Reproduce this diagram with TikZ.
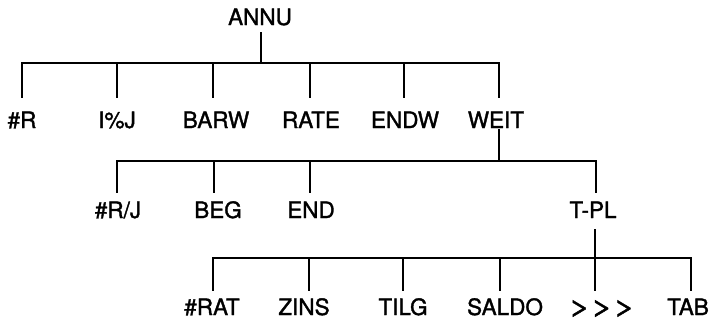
\documentclass[tikz,border=0pt]{standalone}
\usepackage{fontspec}
\setmainfont[FakeBold=1.5]{TeX Gyre Heros}
\newcommand{\gtsym}{\scalebox{1.7}[1.15]{>}}
\begin{document}
\begin{tikzpicture}[x=1pt,y=-1pt,
  lbl/.style={inner sep=0pt, anchor=base, text height=16pt, text depth=0pt,
    font=\fontsize{22.5}{22.5}\selectfont},
  ln/.style={line width=1.8pt, line cap=rect},
  dropA/.style={ln, shorten >=15pt},
  dropB/.style={ln, shorten >=10pt},
  dropC/.style={ln, shorten >=9pt}]
\useasboundingbox (0,0) rectangle (711,322);
% labels
\node[lbl] (annu) at (260,25) {ANNU};
\node[lbl] (r)    at (22,128)  {\#R};
\node[lbl] (ipj)  at (117,128) {I\%J};
\node[lbl] (barw) at (216,128) {BARW};
\node[lbl] (rate) at (311,128) {RATE};
\node[lbl] (endw) at (405,128) {ENDW};
\node[lbl] (weit) at (496,128) {WEIT};
\node[lbl] (rj)   at (118,218) {\#R/J};
\node[lbl] (beg)  at (218,218) {BEG};
\node[lbl] (end)  at (311,218) {END};
\node[lbl] (tpl)  at (593,218) {T-PL};
\node[lbl] (rat)  at (212,315) {\#RAT};
\node[lbl] (zins) at (304,315) {ZINS};
\node[lbl] (tilg) at (403,315) {TILG};
\node[lbl] (saldo) at (505,315) {SALDO};
\node[lbl] (more) at (602,315) {\gtsym\gtsym\gtsym};
\node[lbl] (tab)  at (688,315) {TAB};
% junctions level 1
\coordinate (a0) at (261,63);
\coordinate (a1) at (22,63);
\coordinate (a2) at (117,63);
\coordinate (a3) at (213,63);
\coordinate (a4) at (310,63);
\coordinate (a5) at (404,63);
\coordinate (a6) at (499,63);
\draw[ln] ([yshift=-8pt]annu.south -| a0) -- (a0);
\draw[ln] (a1) -- (a6);
\foreach \j/\c in {a1/r,a2/ipj,a3/barw,a4/rate,a5/endw,a6/weit}
  \draw[dropA] (\j) -- (\j |- \c.north);
% junctions level 2
\coordinate (b0) at (499,161);
\coordinate (b1) at (117,161);
\coordinate (b2) at (214,161);
\coordinate (b3) at (310,161);
\coordinate (b4) at (596,161);
\draw[ln] ([yshift=-2pt]weit.south -| b0) -- (b0);
\draw[ln] (b1) -- (b4);
\foreach \j/\c in {b1/rj,b2/beg,b3/end,b4/tpl}
  \draw[dropB] (\j) -- (\j |- \c.north);
% junctions level 3
\coordinate (c0) at (595,258);
\coordinate (c1) at (213,258);
\coordinate (c2) at (309,258);
\coordinate (c3) at (403,258);
\coordinate (c4) at (500,258);
\coordinate (c5) at (595,258);
\coordinate (c6) at (691,258);
\draw[ln] ([yshift=-12pt]tpl.south -| c0) -- (c0);
\draw[ln] (c1) -- (c6);
\foreach \j/\c in {c1/rat,c2/zins,c3/tilg,c4/saldo,c5/more,c6/tab}
  \draw[dropC] (\j) -- (\j |- \c.north);
\end{tikzpicture}
\end{document}
